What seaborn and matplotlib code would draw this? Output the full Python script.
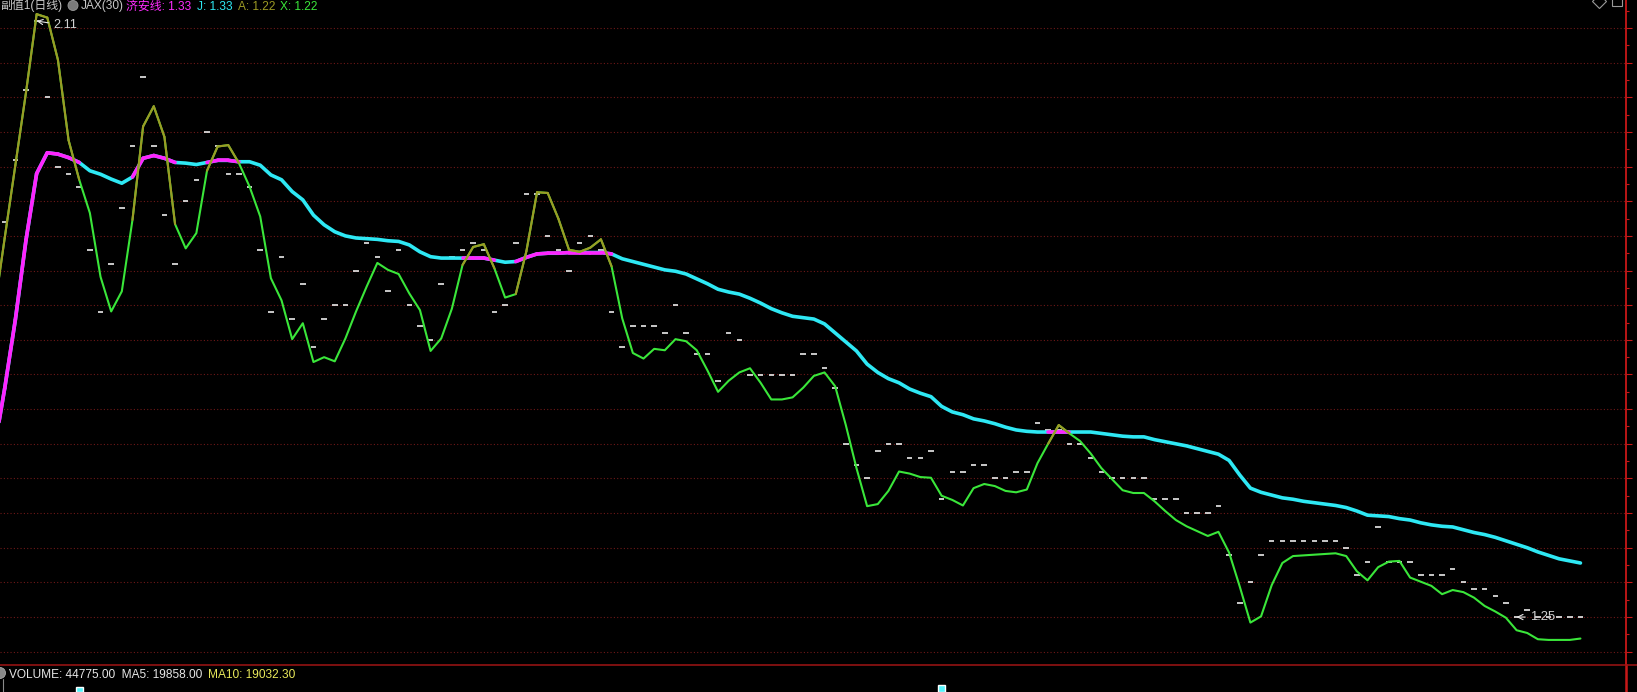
import numpy as np
import seaborn as sns
import matplotlib.pyplot as plt
from matplotlib.collections import LineCollection
from matplotlib.patches import Ellipse
from matplotlib.lines import Line2D
from matplotlib.ticker import MultipleLocator

# daily values; the first day sits just left of the visible area
close = [1.72,
         1.82, 1.91, 2.01, 2.11, 2.00, 1.90, 1.89, 1.87, 1.78, 1.69,
         1.76, 1.84, 1.93, 2.03, 1.93, 1.83, 1.76, 1.85, 1.88, 1.95,
         1.93, 1.89, 1.89, 1.87, 1.78, 1.69, 1.77, 1.68, 1.73, 1.64,
         1.68, 1.70, 1.70, 1.75, 1.79, 1.77, 1.72, 1.78, 1.70, 1.67,
         1.65, 1.73, 1.77, 1.78, 1.79, 1.78, 1.69, 1.70, 1.79, 1.86,
         1.86, 1.80, 1.78, 1.75, 1.79, 1.80, 1.78, 1.69, 1.64, 1.67,
         1.67, 1.67, 1.66, 1.70, 1.66, 1.63, 1.63, 1.59, 1.66, 1.65,
         1.60, 1.60, 1.60, 1.60, 1.60, 1.63, 1.63, 1.61, 1.58, 1.50,
         1.47, 1.45, 1.49, 1.50, 1.50, 1.48, 1.48, 1.49, 1.42, 1.46,
         1.46, 1.47, 1.47, 1.45, 1.45, 1.46, 1.46, 1.53, 1.52, 1.52,
         1.50, 1.50, 1.48, 1.46, 1.45, 1.45, 1.45, 1.45, 1.42, 1.42,
         1.42, 1.40, 1.40, 1.40, 1.41, 1.34, 1.27, 1.30, 1.34, 1.36,
         1.36, 1.36, 1.36, 1.36, 1.36, 1.36, 1.35, 1.31, 1.33, 1.38,
         1.33, 1.33, 1.33, 1.31, 1.31, 1.31, 1.32, 1.30, 1.29, 1.29,
         1.28, 1.27, 1.25, 1.26, 1.25, 1.25, 1.25, 1.25, 1.25]

line_a = [1.690,
          1.797, 1.902, 2.007, 2.120, 2.115, 2.054, 1.938, 1.881, 1.833, 1.741,
          1.691, 1.720, 1.823, 1.958, 1.987, 1.943, 1.817, 1.782, 1.804, 1.894,
          1.929, 1.931, 1.905, 1.871, 1.828, 1.739, 1.707, 1.651, 1.674, 1.618,
          1.625, 1.619, 1.652, 1.691, 1.727, 1.761, 1.751, 1.745, 1.717, 1.693,
          1.634, 1.652, 1.695, 1.758, 1.784, 1.788, 1.753, 1.711, 1.716, 1.778,
          1.863, 1.862, 1.825, 1.780, 1.777, 1.783, 1.795, 1.756, 1.681, 1.631,
          1.623, 1.637, 1.635, 1.651, 1.648, 1.635, 1.606, 1.575, 1.591, 1.603,
          1.609, 1.588, 1.564, 1.564, 1.567, 1.581, 1.598, 1.603, 1.583, 1.527,
          1.465, 1.410, 1.413, 1.432, 1.460, 1.457, 1.452, 1.451, 1.425, 1.419,
          1.411, 1.436, 1.442, 1.439, 1.432, 1.430, 1.434, 1.472, 1.500, 1.527,
          1.515, 1.504, 1.486, 1.465, 1.449, 1.433, 1.429, 1.429, 1.417, 1.403,
          1.390, 1.381, 1.374, 1.367, 1.373, 1.343, 1.294, 1.242, 1.251, 1.296,
          1.328, 1.338, 1.339, 1.340, 1.341, 1.342, 1.338, 1.316, 1.303, 1.322,
          1.330, 1.331, 1.307, 1.301, 1.295, 1.283, 1.289, 1.286, 1.278, 1.266,
          1.258, 1.249, 1.231, 1.227, 1.218, 1.217, 1.217, 1.217, 1.219]

line_j = [1.490,
          1.580, 1.679, 1.794, 1.890, 1.920, 1.918, 1.913, 1.906, 1.894, 1.889,
          1.882, 1.876, 1.885, 1.912, 1.916, 1.912, 1.906, 1.905, 1.903, 1.906,
          1.909, 1.909, 1.907, 1.907, 1.902, 1.888, 1.881, 1.864, 1.852, 1.830,
          1.816, 1.806, 1.800, 1.797, 1.796, 1.795, 1.793, 1.792, 1.787, 1.777,
          1.770, 1.768, 1.768, 1.768, 1.768, 1.768, 1.765, 1.762, 1.763, 1.769,
          1.774, 1.775, 1.775, 1.776, 1.776, 1.776, 1.776, 1.774, 1.767, 1.763,
          1.759, 1.755, 1.751, 1.749, 1.745, 1.738, 1.731, 1.723, 1.719, 1.716,
          1.710, 1.703, 1.695, 1.689, 1.684, 1.682, 1.680, 1.673, 1.660, 1.647,
          1.634, 1.615, 1.603, 1.594, 1.588, 1.579, 1.573, 1.568, 1.554, 1.546,
          1.542, 1.536, 1.533, 1.529, 1.524, 1.520, 1.518, 1.517, 1.517, 1.517,
          1.517, 1.517, 1.517, 1.515, 1.513, 1.511, 1.510, 1.510, 1.506, 1.503,
          1.500, 1.497, 1.493, 1.489, 1.485, 1.476, 1.455, 1.436, 1.430, 1.426,
          1.422, 1.420, 1.417, 1.415, 1.413, 1.411, 1.408, 1.403, 1.397, 1.396,
          1.395, 1.392, 1.390, 1.386, 1.383, 1.381, 1.380, 1.376, 1.372, 1.369,
          1.365, 1.360, 1.355, 1.350, 1.344, 1.339, 1.334, 1.331, 1.328]

days = np.arange(-1, len(close) - 1)

vol_days = [7, 88]
vol_vals = [57000, 85000]

high_day, high_val = 3, 2.11
low_day, low_val = 142, 1.25

header = [("副值1(日线)", "#c8c8c8"), ("JAX(30)", "#c8c8c8"),
          ("济安线: 1.33", "#ff2cff"), ("J: 1.33", "#2ee8f4"),
          ("A: 1.22", "#9c9a24"), ("X: 1.22", "#3ae63a")]
header_x = [0, 81, 126, 197, 238, 280]

footer = [("VOLUME: 44775.00  MA5: 19858.00", "#e6e6e6"), ("MA10: 19032.30", "#e8e85a")]
footer_x = [9, 208]

# colours
GRID = "#6e1818"
RED = "#c81818"
CYAN = "#2ee8f4"
MAGENTA = "#ff24ff"
GREEN = "#3ae63a"
OLIVE = "#9c9a24"
TXT = "#d2d2d2"

W, H = 1637, 692
DX, X0 = 10.647, 4.7          # pixels per day, pixel of first visible day
AX_RIGHT, AX_BOTTOM = 1626, 665

sns.set_style("dark", {"axes.facecolor": "black", "figure.facecolor": "black"})
plt.rcParams["font.family"] = ["Liberation Sans", "Noto Sans CJK SC", "DejaVu Sans"]

fig = plt.figure(figsize=(W / 100, H / 100), dpi=100)
ax = fig.add_axes([0, (H - AX_BOTTOM) / H, AX_RIGHT / W, AX_BOTTOM / H])
ax.set_facecolor("black")

a = np.array(line_a)
j = np.array(line_j)
hi = a > j
seg_hi = hi[:-1] | hi[1:]

# white dashes for the daily prices
ax.hlines(close, days - 0.26, days + 0.26, colors="white", lw=1.1, zorder=2)

# base lines
sns.lineplot(x=days, y=j, color=CYAN, lw=2.6, ax=ax, zorder=3, estimator=None, sort=False)
sns.lineplot(x=days, y=a, color=GREEN, lw=1.5, ax=ax, zorder=5, estimator=None, sort=False)

# highlighted stretches where A is above J
pa = np.column_stack([days, a])
pj = np.column_stack([days, j])
segs_a = np.stack([pa[:-1], pa[1:]], axis=1)[seg_hi]
segs_j = np.stack([pj[:-1], pj[1:]], axis=1)[seg_hi]
ax.add_collection(LineCollection(segs_j, colors=MAGENTA, linewidths=2.6, zorder=4, capstyle="round"))
ax.add_collection(LineCollection(segs_a, colors=OLIVE, linewidths=1.5, zorder=6, capstyle="round"))

ax.set_xlim(-X0 / DX, (AX_RIGHT - X0) / DX)
ax.set_ylim(2.10 - 637 / 693, 2.10 + 28 / 693)

ax.set_yticks(np.arange(1.20, 2.1001, 0.05))
ax.yaxis.set_minor_locator(MultipleLocator(0.025))
ax.yaxis.tick_right()
ax.tick_params(axis="y", which="major", length=4, width=0.8, color=RED, labelright=False, labelleft=False)
ax.tick_params(axis="y", which="minor", length=2, width=0.8, color=RED)
ax.set_xticks([])
ax.grid(axis="y", color=GRID, linestyle=(0, (1, 2)), lw=0.8)
ax.grid(axis="x", visible=False)
for side in ["left", "top", "bottom"]:
    ax.spines[side].set_visible(False)
ax.spines["right"].set_color(RED)
ax.spines["right"].set_linewidth(1.3)
ax.set_xlabel("")
ax.set_ylabel("")

# high / low markers
ax.annotate(f"{high_val:.2f}", xy=(high_day, high_val), xytext=(11.8, -3.0),
            textcoords="offset points", ha="left", va="center", color=TXT, fontsize=9.2,
            arrowprops=dict(arrowstyle="->", color="#e6e6e6", lw=0.8, shrinkA=1, shrinkB=0), zorder=8)
ax.annotate(f"{low_val:.2f}", xy=(low_day, low_val), xytext=(9.6, 0),
            textcoords="offset points", ha="left", va="center", color=TXT, fontsize=9.4,
            arrowprops=dict(arrowstyle="->", color="#e6e6e6", lw=0.8, shrinkA=1, shrinkB=0), zorder=8)

# volume strip (only the tallest bars reach into view)
axv = fig.add_axes([0, 0, AX_RIGHT / W, (H - AX_BOTTOM) / H])
axv.set_facecolor("black")
axv.bar(vol_days, vol_vals, width=0.63, color="#54f4fc")
axv.set_xlim(ax.get_xlim())
axv.set_ylim(0, 330000)
axv.set_xticks([])
axv.set_yticks([])
for side in ["left", "top", "bottom"]:
    axv.spines[side].set_visible(False)
axv.spines["right"].set_color(RED)
axv.spines["right"].set_linewidth(1.8)

# separator line across the whole width
fig.add_artist(Line2D([0, 1], [(H - AX_BOTTOM) / H] * 2, transform=fig.transFigure,
                      color="#a01414", lw=1.1))

# header texts along the top edge
for (txt, col), x in zip(header, header_x):
    fig.text(x / W, 1 - 9.5 / H, txt, color=col, fontsize=8.6, va="baseline", ha="left")
fig.add_artist(Ellipse((73 / W, 1 - 5.5 / H), 10 / W, 10 / H, transform=fig.transFigure,
                       facecolor="#7a7a7a", edgecolor="#9a9a9a", lw=0.6))

# top-right icons
fig.add_artist(Line2D([1598.5 / W], [1 - 0.5 / H], transform=fig.transFigure, marker="D",
                      markersize=7, markerfacecolor="none", markeredgecolor="#9a9a9a", mew=0.8))
fig.add_artist(Line2D([1617 / W], [1 - 0.5 / H], transform=fig.transFigure, marker="s",
                      markersize=7, markerfacecolor="none", markeredgecolor="#9a9a9a", mew=0.8))

# footer texts
for (txt, col), x in zip(footer, footer_x):
    fig.text(x / W, 1 - 678 / H, txt, color=col, fontsize=8.6, va="baseline", ha="left")
fig.add_artist(Ellipse((0, 1 - 673 / H), 11 / W, 11 / H, transform=fig.transFigure,
                       facecolor="#8a8a8a", edgecolor="#aaaaaa", lw=0.6))
fig.add_artist(Line2D([2.7 / W] * 2, [0, 1 - 679 / H], transform=fig.transFigure,
                      color="#8a8a8a", lw=0.8))

fig.savefig("out.png", dpi=100, facecolor="black")
